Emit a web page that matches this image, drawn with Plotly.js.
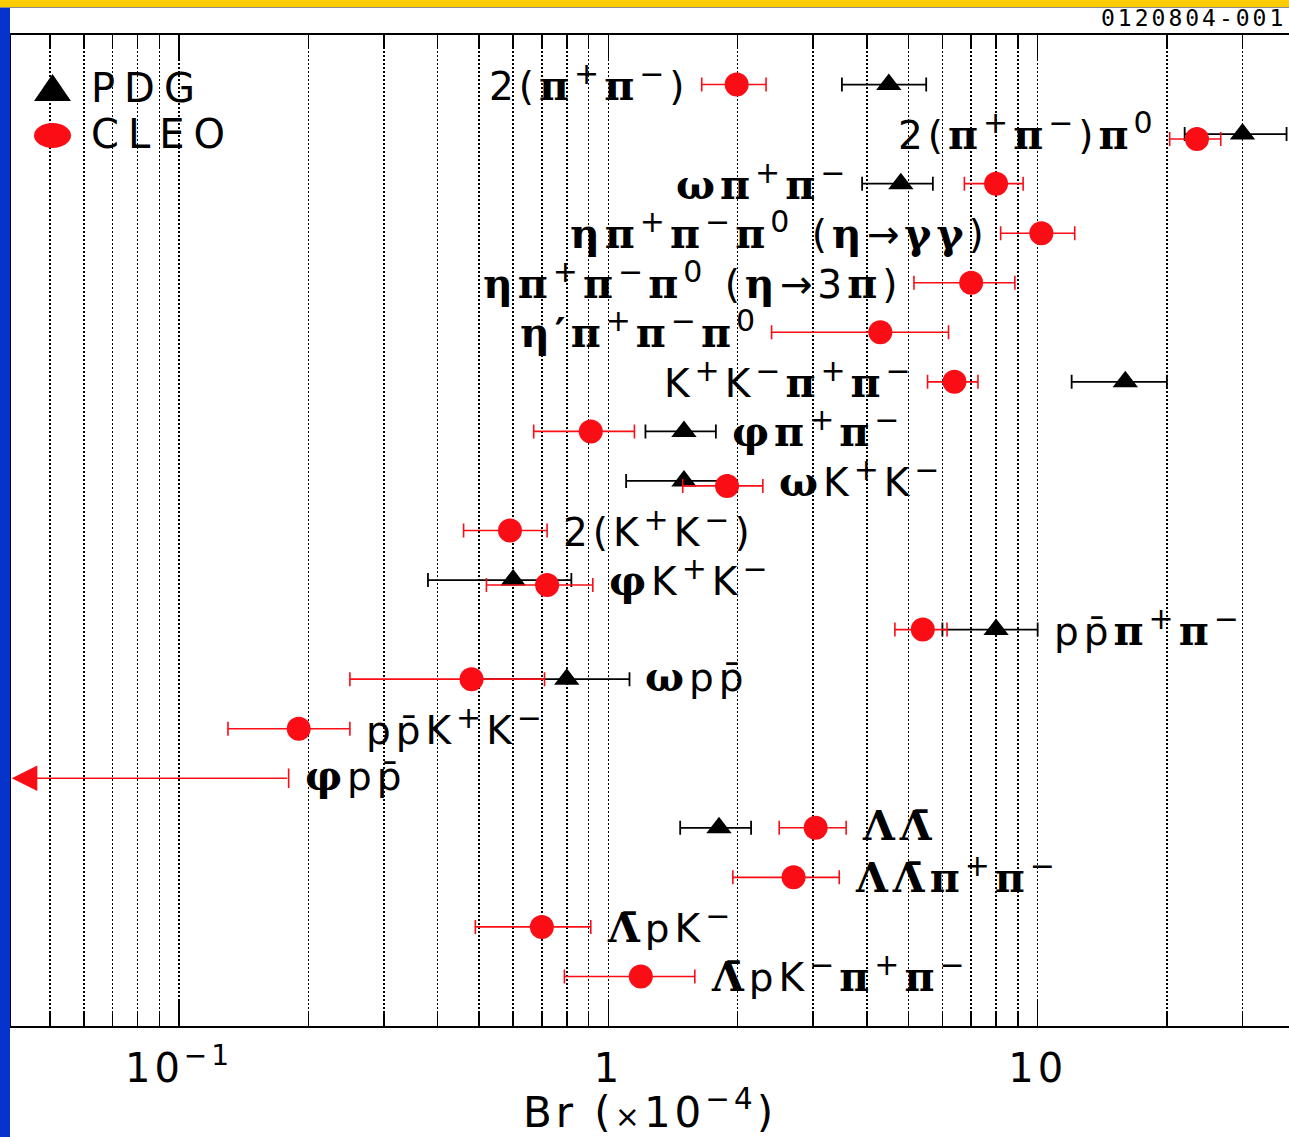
<!DOCTYPE html>
<html>
<head>
<meta charset="utf-8">
<script src="https://cdn.plot.ly/plotly-3.0.1.min.js"></script>
<style>
  html, body { margin: 0; padding: 0; background: #ffffff; }
  #chart { width: 1289px; height: 1137px; }
  /* global so that off-screen text measurement sees the same spacing */
  .annotation-text { letter-spacing: 5px; }
  .xtick text, .xtitle { letter-spacing: 4px; }
</style>
</head>
<body>
<div id="chart"></div>
<script>
// psi(2S) -> multi-hadron branching fractions, in units of 1e-4.
// One entry per decay channel, listed top to bottom.
const channels = [
  '2(π<sup>+</sup>π<sup>−</sup>)',
  '2(π<sup>+</sup>π<sup>−</sup>)π<sup>0</sup>',
  'ωπ<sup>+</sup>π<sup>−</sup>',
  'ηπ<sup>+</sup>π<sup>−</sup>π<sup>0</sup> (η→γγ)',
  'ηπ<sup>+</sup>π<sup>−</sup>π<sup>0</sup> (η→3π)',
  'η′π<sup>+</sup>π<sup>−</sup>π<sup>0</sup>',
  'K<sup>+</sup>K<sup>−</sup>π<sup>+</sup>π<sup>−</sup>',
  'φπ<sup>+</sup>π<sup>−</sup>',
  'ωK<sup>+</sup>K<sup>−</sup>',
  '2(K<sup>+</sup>K<sup>−</sup>)',
  'φK<sup>+</sup>K<sup>−</sup>',
  'pp\u0304π<sup>+</sup>π<sup>−</sup>',
  'ωpp\u0304',
  'pp\u0304K<sup>+</sup>K<sup>−</sup>',
  'φpp\u0304',
  'ΛΛ\u0304',
  'ΛΛ\u0304π<sup>+</sup>π<sup>−</sup>',
  'Λ\u0304pK<sup>−</sup>',
  'Λ\u0304pK<sup>−</sup>π<sup>+</sup>π<sup>−</sup>'
];

// PDG world averages (null where no measurement)
const pdgBr  = [4.5, 30, 4.8, null, null, null, 16, 1.5, 1.5, null, 0.6, 8.0, 0.8, null, null, 1.81, null, null, null];
const pdgErr = [1.0,  8, 0.9, null, null, null,  4, 0.28, 0.4, null, 0.22, 2.0, 0.32, null, null, 0.34, null, null, null];

// CLEO measurements
const cleoBr  = [1.99, 23.5, 8.0, 10.2, 7.0, 4.3, 6.4, 0.91, 1.89, 0.59, 0.72, 5.4, 0.48, 0.19, null, 3.04, 2.7, 0.70, 1.19];
const cleoErr = [0.34,  3.2, 1.25, 2.0, 1.85, 1.9, 0.86, 0.24, 0.4, 0.13, 0.2, 0.75, 0.23, 0.06, null, 0.54, 0.75, 0.21, 0.4];

// CLEO upper limits (90% CL), drawn as left-pointing arrows
const cleoUpperLimit = [null, null, null, null, null, null, null, null, null, null, null, null, null, null, 0.18, null, null, null, null];

// x-axis ticks
const majorTicks = [0.1, 1, 10];
const majorTickText = ['10<sup>−1</sup>', '1', '10'];
const minorTicks = [0.05, 0.06, 0.07, 0.08, 0.09, 0.2, 0.3, 0.4, 0.5, 0.6, 0.7, 0.8, 0.9,
                    2, 3, 4, 5, 6, 7, 8, 9, 20, 30];

// ---------------------------------------------------------------------------
const W = 1289, H = 1137;
const M = { l: 11, r: 0, t: 35, b: 111 };
const PW = W - M.l - M.r, PH = H - M.t - M.b;
const xRange = [0.0406, 38.5];
const labelsLeftOfMarks = 7;       // first rows carry their label on the left
const RED = '#fb0d16';
const BLACK = '#000000';

const rows = channels.map((_, i) => i + 1);

// paper-coordinate helpers from page pixels
const px = x => (x - M.l) / PW;
const py = y => 1 - (y - M.t) / PH;

// nudge CLEO point slightly down where it sits right next to the PDG point
const cleoRows = rows.map((r, i) => {
  if (pdgBr[i] == null || cleoBr[i] == null) return r;
  return Math.abs(Math.log10(pdgBr[i] / cleoBr[i])) < 0.15 ? r + 0.1 : r;
});

function styleLabel(s) {
  return s
    .replace(/<sup>(.*?)<\/sup>/g, '<sup><span style="font-size:30px">$1</span></sup>')
    .replace(/([πηωφΛγ][\u0304′]?)/g,
      '<span style="font-family:\'DejaVu Serif\';font-weight:bold;font-size:41px">$1</span>');
}

const traces = [
  {
    type: 'scatter', mode: 'markers', name: 'PDG',
    x: pdgBr, y: rows,
    error_x: { type: 'data', array: pdgErr, visible: true, color: BLACK, thickness: 1.8, width: 7 },
    marker: { symbol: 'triangle-up', size: 22, color: BLACK },
    hoverinfo: 'x'
  },
  {
    type: 'scatter', mode: 'markers', name: 'CLEO',
    x: cleoBr, y: cleoRows,
    error_x: { type: 'data', array: cleoErr, visible: true, color: RED, thickness: 1.6, width: 7 },
    marker: { symbol: 'circle', size: 24, color: RED },
    hoverinfo: 'x'
  }
];

const annotations = [];

// upper limits: bar from the limit down to the axis edge, with an arrow head
cleoUpperLimit.forEach((ul, i) => {
  if (ul == null) return;
  traces.push({
    type: 'scatter', mode: 'markers', showlegend: false,
    x: [ul], y: [rows[i]],
    marker: { symbol: 'line-ns', size: 14, color: RED, line: { color: RED, width: 1.6 } },
    hoverinfo: 'skip'
  });
  annotations.push({
    xref: 'x', yref: 'y', axref: 'x', ayref: 'y',
    x: Math.log10(xRange[0] * 1.004), y: rows[i],
    ax: Math.log10(ul), ay: rows[i],
    text: '', showarrow: true, arrowhead: 2, arrowsize: 3.2, arrowwidth: 1.6,
    arrowcolor: RED, standoff: 0, startstandoff: 0
  });
});

// channel labels, placed beside the error bars of each row
channels.forEach((lab, i) => {
  const lows = [], highs = [];
  if (pdgBr[i] != null) { lows.push(pdgBr[i] - pdgErr[i]); highs.push(pdgBr[i] + pdgErr[i]); }
  if (cleoBr[i] != null) { lows.push(cleoBr[i] - cleoErr[i]); highs.push(cleoBr[i] + cleoErr[i]); }
  if (cleoUpperLimit[i] != null) { lows.push(xRange[0]); highs.push(cleoUpperLimit[i]); }
  const left = i < labelsLeftOfMarks;
  annotations.push({
    xref: 'x', yref: 'y',
    x: Math.log10(left ? Math.min(...lows) : Math.max(...highs)),
    y: rows[i],
    xanchor: left ? 'right' : 'left', yanchor: 'middle',
    xshift: left ? -10 : 14, yshift: 2,
    text: styleLabel(lab), showarrow: false,
    font: { family: 'DejaVu Sans', size: 39, color: BLACK }
  });
});

// legend
annotations.push(
  { xref: 'paper', yref: 'paper', x: px(89), y: py(88), xanchor: 'left', yanchor: 'middle',
    text: '<span style="letter-spacing:9px">PDG</span>', showarrow: false,
    font: { family: 'DejaVu Sans', size: 40, color: BLACK } },
  { xref: 'paper', yref: 'paper', x: px(89), y: py(134), xanchor: 'left', yanchor: 'middle',
    text: '<span style="letter-spacing:9px">CLEO</span>', showarrow: false,
    font: { family: 'DejaVu Sans', size: 40, color: BLACK } },
  { xref: 'paper', yref: 'paper', x: px(1288), y: py(18), xanchor: 'right', yanchor: 'middle',
    text: '<span style="letter-spacing:3px">0120804-001</span>', showarrow: false,
    font: { family: 'DejaVu Sans Mono', size: 23, color: BLACK } }
);

const shapes = [
  // top banner and side bar of the slide
  { type: 'rect', xref: 'paper', yref: 'paper', x0: px(0), x1: px(W), y0: py(0), y1: py(7),
    fillcolor: '#ffcc00', line: { width: 0 }, layer: 'above' },
  { type: 'line', xref: 'paper', yref: 'paper', x0: px(0), x1: px(W), y0: py(7.5), y1: py(7.5),
    line: { color: '#8a8a8a', width: 1 }, layer: 'above' },
  { type: 'rect', xref: 'paper', yref: 'paper', x0: px(0), x1: px(10), y0: py(8), y1: py(H),
    fillcolor: '#0533cc', line: { width: 0 }, layer: 'above' },
  // legend symbols
  { type: 'path', xref: 'paper', yref: 'paper',
    path: `M${px(34)},${py(101)} L${px(71)},${py(101)} L${px(52.5)},${py(74)} Z`,
    fillcolor: BLACK, line: { width: 0 }, layer: 'above' },
  { type: 'circle', xref: 'paper', yref: 'paper',
    x0: px(34), x1: px(71), y0: py(123), y1: py(148),
    fillcolor: RED, line: { width: 0 }, layer: 'above' }
];

const layout = {
  width: W, height: H,
  margin: M,
  paper_bgcolor: '#ffffff', plot_bgcolor: '#ffffff',
  showlegend: false,
  xaxis: {
    type: 'log',
    range: xRange.map(Math.log10),
    tickmode: 'array', tickvals: majorTicks, ticktext: majorTickText,
    ticks: 'inside', ticklen: 26, tickwidth: 1.5, tickcolor: BLACK,
    ticklabelstandoff: 6,
    showline: true, linecolor: BLACK, linewidth: 2, mirror: 'ticks',
    showgrid: true, gridcolor: BLACK, gridwidth: 1.5, griddash: '2px,2px',
    zeroline: false,
    tickfont: { family: 'DejaVu Sans', size: 40, color: BLACK },
    minor: {
      tickmode: 'array', tickvals: minorTicks,
      ticks: 'inside', ticklen: 13, tickwidth: 1.5, tickcolor: BLACK,
      showgrid: true, gridcolor: BLACK, gridwidth: 1.5, griddash: '2px,2px'
    },
    title: {
      text: 'Br (<span style="font-size:30px">×</span>10<sup>−4</sup>)',
      font: { family: 'DejaVu Sans', size: 42, color: BLACK },
      standoff: 12
    }
  },
  yaxis: {
    range: [20, 0],
    showgrid: false, zeroline: false, showticklabels: false, ticks: '',
    showline: true, linecolor: BLACK, linewidth: 2, mirror: false
  },
  annotations: annotations,
  shapes: shapes
};

Plotly.newPlot('chart', traces, layout, { displayModeBar: false, staticPlot: true });
</script>
</body>
</html>
